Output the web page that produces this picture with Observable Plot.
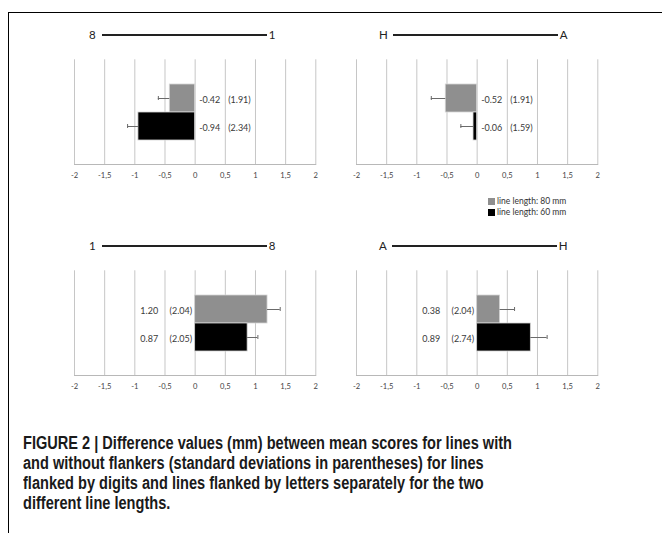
<!DOCTYPE html>
<html>
<head>
<meta charset="utf-8">
<script src="https://cdn.jsdelivr.net/npm/d3@7"></script>
<script src="https://cdn.jsdelivr.net/npm/@observablehq/plot@0.6"></script>
<style>
  html, body { margin: 0; padding: 0; background: #fff; }
  #root { position: relative; width: 662px; height: 533px; overflow: hidden; background: #fff; }
  .abs { position: absolute; }
  .frame { left: 8px; top: 12px; width: 700px; height: 600px; border-top: 1.6px solid #000; border-left: 1.6px solid #000; }
  .flank { font-family: Lato, "Open Sans", sans-serif; font-size: 11.5px; color: #222; line-height: 1; }
  .flankline { height: 2px; background: #222; }
  .legend { font-family: Lato, "Open Sans", sans-serif; font-size: 8.5px; color: #333; }
  .sw { display: inline-block; width: 6.5px; height: 6.5px; margin-right: 2.5px; vertical-align: -0.5px; }
  .caption { left: 23px; top: 433px; font-family: "Liberation Sans", Arial, sans-serif; font-weight: bold; font-size: 17.5px; line-height: 20px; color: #1a1a1a; white-space: nowrap; transform-origin: 0 0; }
</style>
</head>
<body>
<div id="root">
  <div class="abs frame"></div>
</div>
<script>
// ---- data ----
const lengths = ["line length: 80 mm", "line length: 60 mm"];
const lengthColors = ["#8f8f8f", "#000000"];
const flankLeft = ["8", "H", "1", "A"];
const flankRight = ["1", "A", "8", "H"];
const means80 = [-0.42, -0.52, 1.20, 0.38];
const means60 = [-0.94, -0.06, 0.87, 0.89];
const sd80 = [1.91, 1.91, 2.04, 2.04];
const sd60 = [2.34, 1.59, 2.05, 2.74];
const err80 = [0.19, 0.24, 0.21, 0.24];
const err60 = [0.18, 0.21, 0.17, 0.27];
const xTicks = [-2, -1.5, -1, -0.5, 0, 0.5, 1, 1.5, 2];
const captionLines = [
  "FIGURE 2 | Difference values (mm) between mean scores for lines with",
  "and without flankers (standard deviations in parentheses) for lines",
  "flanked by digits and lines flanked by letters separately for the two",
  "different line lengths."
];

// ---- layout ----
const root = document.getElementById("root");
const panelPos = [[64, 49], [346, 49], [64, 260], [346, 260]];
const fmt = d => String(d).replace(".", ",");

function addPanel(i) {
  const [left, top] = panelPos[i];
  const data = [
    {len: lengths[0], mean: means80[i], sd: sd80[i], err: err80[i]},
    {len: lengths[1], mean: means60[i], sd: sd60[i], err: err60[i]}
  ].map(d => ({...d, end: d.mean + Math.sign(d.mean) * d.err}));
  const neg = means80[i] < 0;
  const chart = Plot.plot({
    width: 262, height: 140,
    marginLeft: 10, marginRight: 10.7, marginTop: 10.3, marginBottom: 25,
    style: {fontFamily: "Lato, 'Open Sans', sans-serif", fontSize: "7.6px", color: "#444", background: "transparent", overflow: "visible"},
    x: {domain: [-2, 2], ticks: xTicks, tickFormat: fmt, tickSize: 0, tickPadding: 8, label: null},
    y: {domain: lengths, paddingInner: 0, paddingOuter: 0.81, axis: null},
    color: {domain: lengths, range: lengthColors},
    marks: [
      Plot.gridX(xTicks, {stroke: "#c6c6c6", strokeOpacity: 1, strokeWidth: 1}),
      Plot.frame({anchor: "bottom", stroke: "#b8b8b8", strokeWidth: 1}),
      Plot.barX(data, {x: "mean", y: "len", fill: "len", stroke: "#d4d4d4", strokeWidth: 0.8}),
      Plot.ruleY(data, {y: "len", x1: "mean", x2: "end", stroke: "#6a6a6a", strokeWidth: 1}),
      Plot.tickX(data, {x: "end", y: "len", stroke: "#6a6a6a", strokeWidth: 1, insetTop: 12, insetBottom: 12}),
      Plot.text(data, {x: () => 0, y: "len", text: d => d.mean.toFixed(2), textAnchor: neg ? "start" : "end", dx: neg ? 4 : -37, dy: 1.5, fontSize: 9, fill: "#3a3a3a"}),
      Plot.text(data, {x: () => 0, y: "len", text: d => "(" + d.sd.toFixed(2) + ")", textAnchor: neg ? "start" : "end", dx: neg ? 33 : -3, dy: 1.5, fontSize: 9, fill: "#3a3a3a"})
    ]
  });
  chart.classList.add("abs");
  chart.style.left = left + "px";
  chart.style.top = top + "px";
  root.appendChild(chart);

  // flanker line label above panel
  const fl = document.createElement("div");
  fl.className = "abs flank";
  const isDigit = /\d/.test(flankLeft[i]);
  const lx = left + (isDigit ? 25 : 33);
  const ly = top - 20;
  fl.style.left = lx + "px"; fl.style.top = ly + "px";
  fl.style.display = "flex"; fl.style.alignItems = "center";
  fl.innerHTML = `<span>${flankLeft[i]}</span><span class="flankline" style="width:165px;margin:0 2px 0 ${isDigit ? 6 : 5}px;display:inline-block"></span><span>${flankRight[i]}</span>`;
  root.appendChild(fl);
}
for (let i = 0; i < 4; i++) addPanel(i);

// legend
const lg = document.createElement("div");
lg.className = "abs legend";
lg.style.left = "488px"; lg.style.top = "196px"; lg.style.lineHeight = "11px";
lg.innerHTML = lengths.map((l, k) => `<div><span class="sw" style="background:${lengthColors[k]}"></span>${l}</div>`).join("");
root.appendChild(lg);

// caption (condensed bold face emulated by horizontal scaling)
const cap = document.createElement("div");
cap.className = "abs caption";
cap.innerHTML = captionLines.map(l => `<span>${l}</span>`).join("<br>");
root.appendChild(cap);
const firstW = cap.querySelector("span").getBoundingClientRect().width;
cap.style.transform = `scaleX(${489 / firstW})`;
</script>
</body>
</html>
